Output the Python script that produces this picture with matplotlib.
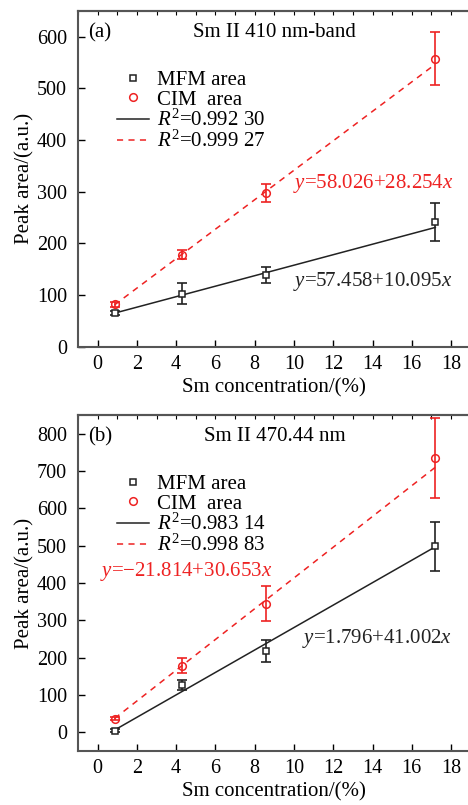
import matplotlib
matplotlib.use("Agg")
import matplotlib.pyplot as plt
from matplotlib.lines import Line2D

plt.rcParams['font.family'] = ['Liberation Serif', 'DejaVu Serif']
plt.rcParams['mathtext.fontset'] = 'custom'
plt.rcParams['mathtext.rm'] = 'Liberation Serif'
plt.rcParams['mathtext.it'] = 'Liberation Serif:italic'

conc = [0.86, 4.3, 8.6, 17.2]

# panel (a): Sm II 410 nm-band
mfm_a = [65, 103, 139, 241]
mfm_a_err = [4, 21, 16, 37]
cim_a = [82, 178, 298, 558]
cim_a_err = [5, 9, 17, 51]
fit_x = [0.86, 17.2]
mfm_a_fit = [65, 231]
cim_a_fit = [81, 547]

# panel (b): Sm II 470.44 nm
mfm_b = [4, 127, 218, 498]
mfm_b_err = [4, 14, 29, 66]
cim_b = [37, 178, 345, 735]
cim_b_err = [4, 20, 46, 107]
mfm_b_fit = [6, 497]
cim_b_fit = [37, 710]

fig = plt.figure(figsize=(4.68, 8.05), dpi=100)
ax1 = fig.add_axes([0.1667, 0.5693, 0.839, 0.417])
ax2 = fig.add_axes([0.1667, 0.0671, 0.839, 0.4174])

panels = [
    (ax1, mfm_a, mfm_a_err, cim_a, cim_a_err, mfm_a_fit, cim_a_fit,
     '(a)', 'Sm II 410 nm-band', ('0.992 30', '0.999 27'), (0, 650), range(0, 601, 100)),
    (ax2, mfm_b, mfm_b_err, cim_b, cim_b_err, mfm_b_fit, cim_b_fit,
     '(b)', 'Sm II 470.44 nm', ('0.983 14', '0.998 83'), (-50, 850), range(0, 801, 100)),
]

for ax, mfm, mfm_err, cim, cim_err, mfit, cfit, tag, title, r2, ylim, yt in panels:
    ax.errorbar(conc, mfm, yerr=mfm_err, fmt='none', ecolor='#222222',
                elinewidth=1.2, capsize=3.5, capthick=1.2)
    ax.errorbar(conc, cim, yerr=cim_err, fmt='none', ecolor='#ee2222',
                elinewidth=1.2, capsize=3.5, capthick=1.2)
    ax.plot(fit_x, mfit, '-', color='#222222', lw=1.1)
    ax.plot(fit_x, cfit, '--', color='#ee2222', lw=1.1, dashes=(4, 3.5))
    ax.plot(conc, mfm, 's', ms=5, mfc='white', mec='#222222', mew=1.1)
    ax.plot(conc, cim, 'o', ms=5.5, mfc='none', mec='#ee2222', mew=1.1)

    ax.set_xlim(-1, 19)
    ax.set_ylim(*ylim)
    ax.set_xticks(range(0, 19, 2))
    ax.set_yticks(list(yt))
    ax.tick_params(axis='x', direction='in', length=5, width=1, pad=6, labelsize=14.5)
    ax.tick_params(axis='y', direction='in', length=5, width=1, pad=8, labelsize=14.5)
    sec = ax.secondary_xaxis('top')
    sec.set_xticks(range(-1, 20))
    sec.tick_params(direction='in', length=3, width=0.8, labeltop=False)
    sec.spines['top'].set_color('#555555')
    sec.spines['top'].set_linewidth(1.5)
    for s in ['left', 'bottom', 'top']:
        ax.spines[s].set_color('#555555')
        ax.spines[s].set_linewidth(1.5)
    ax.spines['right'].set_visible(False)

    ax.set_xlabel('Sm concentration/(%)', fontsize=15, labelpad=3)
    ax.set_ylabel('Peak area/(a.u.)', fontsize=15, labelpad=2)

    ax.text(0.025, 0.935, tag, transform=ax.transAxes, fontsize=15, va='center', ha='left')
    ax.text(0.5, 0.935, title, transform=ax.transAxes, fontsize=15, va='center', ha='center')

    handles = [
        Line2D([], [], ls='none', marker='s', ms=5, mfc='white', mec='#222222', mew=1.1),
        Line2D([], [], ls='none', marker='o', ms=5.5, mfc='none', mec='#ee2222', mew=1.1),
        Line2D([], [], ls='-', color='#222222', lw=1.1),
        Line2D([], [], ls='--', color='#ee2222', lw=1.1, dashes=(4, 3.5)),
    ]
    labels = ['MFM area', 'CIM  area', r'$R^{2}$=' + r2[0], r'$R^{2}$=' + r2[1]]
    ax.legend(handles, labels, loc='upper left', bbox_to_anchor=(0.1, 0.823),
              frameon=False, fontsize=15, handlelength=1.5, handletextpad=0.4,
              labelspacing=0.0, borderpad=0, borderaxespad=0)

ax1.text(9.95, 317, r'$y$=58.026+28.254$x$', color='#ee2222', fontsize=15, va='center', ha='left')
ax1.text(9.95, 126, r'$y$=57.458+10.095$x$', color='#222222', fontsize=15, va='center', ha='left')
ax2.text(0.1, 430, r'$y$=−21.814+30.653$x$', color='#ee2222', fontsize=15, va='center', ha='left')
ax2.text(10.4, 251, r'$y$=1.796+41.002$x$', color='#222222', fontsize=15, va='center', ha='left')

fig.savefig('out.png', dpi=100)
